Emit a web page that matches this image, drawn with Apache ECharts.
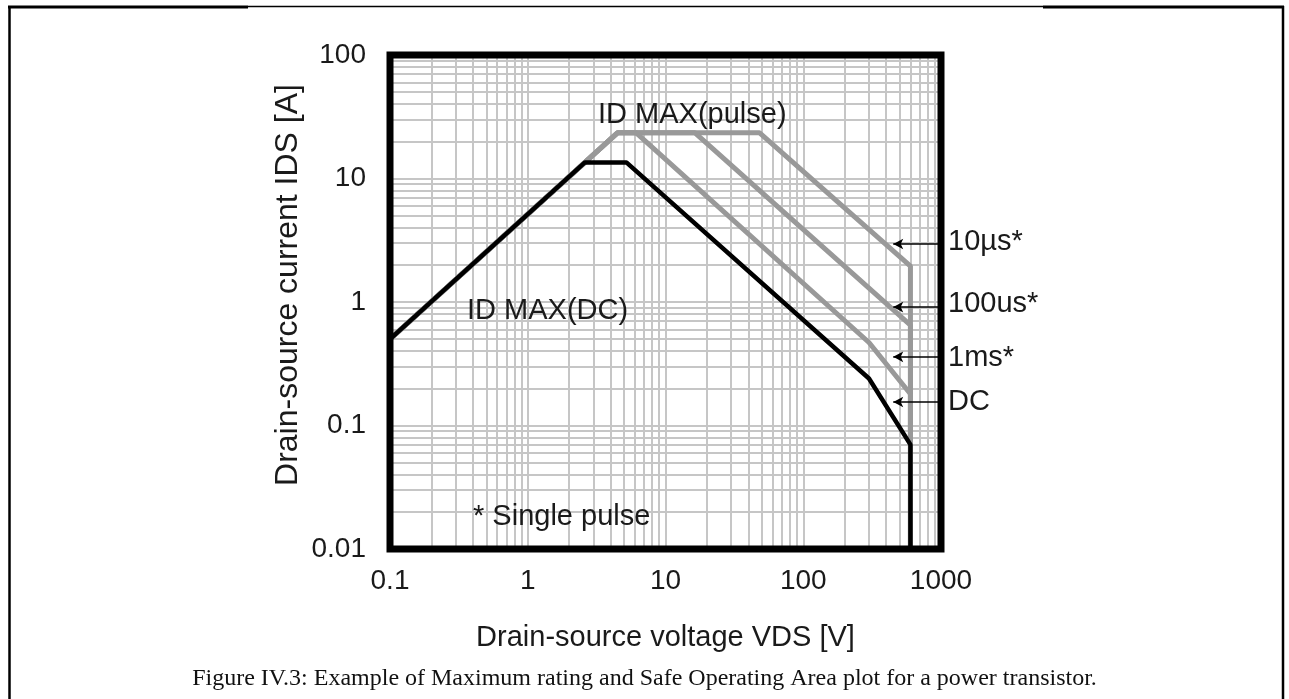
<!DOCTYPE html>
<html>
<head>
<meta charset="utf-8">
<script src="https://cdn.jsdelivr.net/npm/echarts@6/dist/echarts.min.js"></script>
<style>
html,body{margin:0;padding:0;background:#fff;}
#chart{width:1289px;height:699px;}
</style>
</head>
<body>
<div id="chart"></div>
<script>
// ---- data ----
const xTickLabels = ['0.1', '1', '10', '100', '1000'];
const yTickLabels = ['0.01', '0.1', '1', '10', '100'];
const minorSteps = [1, 2, 3, 4, 5, 6, 7, 8, 9];

// DC (ID MAX(DC)) curve
const dcV = [0.1, 2.6, 5.2, 300, 600, 600];
const dcI = [0.5, 13.5, 13.5, 0.24, 0.07, 0.01];
// 10 µs single pulse
const p10usV = [0.1, 4.5, 48, 600, 600];
const p10usI = [0.5, 23.5, 23.5, 1.95, 0.01];
// 100 us single pulse
const p100usV = [0.1, 4.5, 16.3, 600, 600];
const p100usI = [0.5, 23.5, 23.5, 0.65, 0.01];
// 1 ms single pulse
const p1msV = [0.1, 4.5, 6.1, 300, 600, 600];
const p1msI = [0.5, 23.5, 23.5, 0.47, 0.18, 0.01];

// annotation arrows (current level, arrow tip voltage)
const arrowNames = ['10µs*', '100us*', '1ms*', 'DC'];
const arrowI = [2.95, 0.91, 0.36, 0.155];
const arrowFromV = 1000;
const arrowToV = 450;

// ---- build ----
const zip = (a, b) => a.map((v, i) => [v, b[i]]);
const fontSans = "'Liberation Sans', Arial, sans-serif";
const textColor = '#1a1a1a';

function gridValues(labels) {
  const out = [];
  const lo = Math.log10(parseFloat(labels[0]));
  const hi = Math.log10(parseFloat(labels[labels.length - 1]));
  for (let e = lo; e < hi; e++) {
    minorSteps.forEach(s => {
      const v = s * Math.pow(10, e);
      if (!(e === lo && s === 1)) out.push(+v.toPrecision(6));
    });
  }
  return out;
}
const gridStyle = { color: '#c6c6c6', width: 2, type: 'solid' };
const gridLines = [];
gridValues(xTickLabels).forEach(v => gridLines.push({ xAxis: v }));
gridValues(yTickLabels).forEach(v => gridLines.push({ yAxis: v }));

function tickFmt(labels) {
  return function (v) {
    const l = Math.round(Math.log10(v));
    const hit = labels.find(t => Math.round(Math.log10(parseFloat(t))) === l);
    return hit || '';
  };
}

const G = { left: 390, top: 55, width: 551, height: 494 };

const chart = echarts.init(document.getElementById('chart'), null, { renderer: 'canvas' });
const option = {
  animation: false,
  backgroundColor: '#ffffff',
  grid: { left: G.left, top: G.top, width: G.width, height: G.height, containLabel: false },
  xAxis: {
    type: 'log', logBase: 10, min: 0.1, max: 1000,
    name: 'Drain-source voltage VDS [V]', nameLocation: 'middle', nameGap: 74,
    nameTextStyle: { fontFamily: fontSans, fontSize: 29, color: textColor },
    axisLine: { show: false },
    axisTick: { show: true, inside: true, length: 8, lineStyle: { color: '#000', width: 1.5 } },
    splitLine: { show: false },
    axisLabel: { fontFamily: fontSans, fontSize: 28, color: textColor, margin: 18, formatter: tickFmt(xTickLabels) }
  },
  yAxis: {
    type: 'log', logBase: 10, min: 0.01, max: 100,
    name: 'Drain-source current IDS [A]', nameLocation: 'middle', nameGap: 86, nameRotate: 90,
    nameMoveOverlap: false,
    nameTextStyle: { fontFamily: fontSans, fontSize: 32, color: textColor, padding: [0, 0, 0, 34] },
    axisLine: { show: false },
    axisTick: { show: true, inside: true, length: 8, lineStyle: { color: '#000', width: 1.5 } },
    splitLine: { show: false },
    axisLabel: { fontFamily: fontSans, fontSize: 28, color: textColor, margin: 24, formatter: tickFmt(yTickLabels) }
  },
  series: [
    {
      name: 'grid', type: 'line', z: 1, silent: true,
      data: [[0.1, 0.01]], showSymbol: false, lineStyle: { width: 0 },
      markLine: { z: 1, silent: true, symbol: 'none', label: { show: false }, lineStyle: gridStyle, data: gridLines, animation: false }
    },
    { name: '10us', type: 'line', z: 3, data: zip(p10usV, p10usI), showSymbol: false, lineStyle: { color: '#999999', width: 5 } },
    { name: '100us', type: 'line', z: 3, data: zip(p100usV, p100usI), showSymbol: false, lineStyle: { color: '#999999', width: 5 } },
    { name: '1ms', type: 'line', z: 3, data: zip(p1msV, p1msI), showSymbol: false, lineStyle: { color: '#999999', width: 5 } },
    { name: 'DC', type: 'line', z: 4, data: zip(dcV, dcI), showSymbol: false, lineStyle: { color: '#000000', width: 4.5 } },
    {
      name: 'arrows', type: 'line', z: 6, silent: true,
      data: [[1000, 0.01]], showSymbol: false, lineStyle: { width: 0 },
      markLine: {
        z: 6, silent: true, symbol: ['none', 'arrow'], symbolSize: [8, 10],
        label: { show: false },
        lineStyle: { color: '#000', width: 1.5, type: 'solid' },
        data: arrowI.map(i => [{ coord: [arrowFromV, i] }, { coord: [arrowToV, i] }]),
        animation: false
      }
    }
  ],
  graphic: [
    // plot frame
    { type: 'rect', z: 100, silent: true, shape: { x: G.left, y: G.top, width: G.width, height: G.height },
      style: { fill: null, stroke: '#000', lineWidth: 7 } },
    // outer page frame
    { type: 'line', z: 100, shape: { x1: 9.5, y1: 6, x2: 9.5, y2: 699 }, style: { stroke: '#000', lineWidth: 2.5 } },
    { type: 'line', z: 100, shape: { x1: 1283, y1: 6, x2: 1283, y2: 699 }, style: { stroke: '#000', lineWidth: 2.5 } },
    { type: 'line', z: 100, shape: { x1: 8, y1: 7, x2: 248, y2: 7 }, style: { stroke: '#000', lineWidth: 3 } },
    { type: 'line', z: 100, shape: { x1: 248, y1: 6.5, x2: 1043, y2: 6.5 }, style: { stroke: '#000', lineWidth: 1.5 } },
    { type: 'line', z: 100, shape: { x1: 1043, y1: 7, x2: 1284, y2: 7 }, style: { stroke: '#000', lineWidth: 3 } },
    // in-plot annotations
    { type: 'text', z: 50, left: 598, top: 100, style: { text: 'ID MAX(pulse)', font: "29px " + fontSans, fill: textColor } },
    { type: 'text', z: 50, left: 467, top: 296, style: { text: 'ID MAX(DC)', font: "29px " + fontSans, fill: textColor } },
    { type: 'text', z: 50, left: 473, top: 502, style: { text: '* Single pulse', font: "29px " + fontSans, fill: textColor } },
    // arrow labels
    { type: 'text', z: 50, left: 948, top: 227, style: { text: arrowNames[0], font: "29px " + fontSans, fill: textColor } },
    { type: 'text', z: 50, left: 948, top: 289, style: { text: arrowNames[1], font: "29px " + fontSans, fill: textColor } },
    { type: 'text', z: 50, left: 948, top: 343, style: { text: arrowNames[2], font: "29px " + fontSans, fill: textColor } },
    { type: 'text', z: 50, left: 948, top: 387, style: { text: arrowNames[3], font: "29px " + fontSans, fill: textColor } },
    // caption
    { type: 'text', z: 50, left: 'center', top: 667,
      style: { text: 'Figure IV.3: Example of Maximum rating and Safe Operating Area plot for a power transistor.',
               font: "24px 'Liberation Serif', 'Times New Roman', serif", fill: '#111' } }
  ]
};
chart.setOption(option);
</script>
</body>
</html>
